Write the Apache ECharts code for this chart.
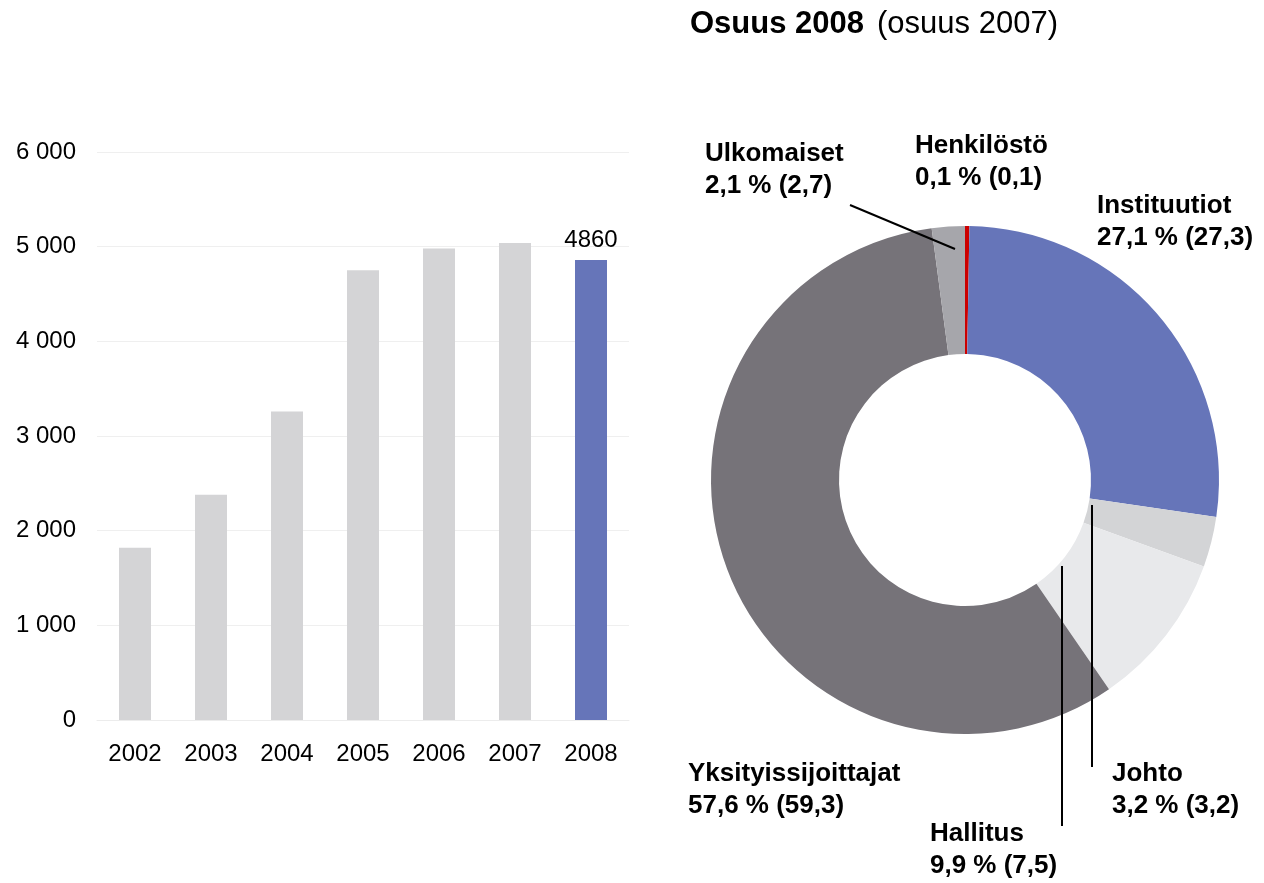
<!DOCTYPE html>
<html>
<head>
<meta charset="utf-8">
<script src="https://cdn.jsdelivr.net/npm/echarts@6/dist/echarts.min.js"></script>
<style>
  html, body { margin: 0; height: 100%; background: #fff; }
  #chart { width: 1264px; height: 883px; }
</style>
</head>
<body>
<div id="chart"></div>
<script>
  // bar chart data
  const years = ['2002', '2003', '2004', '2005', '2006', '2007', '2008'];
  const holders = [1820, 2380, 3260, 4750, 4980, 5040, 4860];
  const yTicks = [0, 1000, 2000, 3000, 4000, 5000, 6000];

  // ownership shares, clockwise from 12 o'clock
  const groups = ['Henkilöstö', 'Instituutiot', 'Johto', 'Hallitus', 'Yksityissijoittajat', 'Ulkomaiset'];
  const share2008 = [0.1, 27.1, 3.2, 9.9, 57.6, 2.1];
  const share2007 = [0.1, 27.3, 3.2, 7.5, 59.3, 2.7];

  const BLUE = '#6675b9';
  const GREY = '#d4d4d6';
  const sliceColors = ['#cc0000', BLUE, '#d3d4d6', '#e8e9eb', '#767379', '#a6a6ab'];

  // label placement (left/top of text box), px
  const labelPos = {
    'Henkilöstö': { x: 915, y: 130 },
    'Instituutiot': { x: 1097, y: 190 },
    'Johto': { x: 1112, y: 758 },
    'Hallitus': { x: 930, y: 818 },
    'Yksityissijoittajat': { x: 688, y: 758 },
    'Ulkomaiset': { x: 705, y: 138 }
  };
  // leader lines drawn over the donut
  const leaders = [
    [[850, 205], [955, 249]],
    [[1092, 505], [1092, 767]],
    [[1062, 566], [1062, 826]]
  ];

  const fmt = v => v.toFixed(1).replace('.', ',');
  const FONT = 'Liberation Sans, Arial, sans-serif';

  const chart = echarts.init(document.getElementById('chart'), null, { renderer: 'canvas' });

  const option = {
    animation: false,
    textStyle: { fontFamily: FONT },
    title: {
      text: '{b|Osuus 2008}{n|(osuus 2007)}',
      left: 685,
      top: 4,
      textStyle: {
        rich: {
          b: { fontSize: 31, fontWeight: 'bold', color: '#000', fontFamily: FONT },
          n: { fontSize: 31, fontWeight: 'normal', color: '#000', fontFamily: FONT, padding: [0, 0, 0, 13] }
        }
      }
    },
    graphic: leaders.map(pts => ({
      type: 'polyline',
      z: 100,
      shape: { points: pts },
      style: { stroke: '#000', lineWidth: 2, fill: null }
    })),
    grid: { left: 97, right: 635, top: 152, bottom: 163 },
    xAxis: {
      type: 'category',
      data: years,
      axisLine: { lineStyle: { color: '#ececec' } },
      axisTick: { show: false },
      axisLabel: { color: '#000', fontSize: 24, margin: 22 }
    },
    yAxis: {
      type: 'value',
      min: yTicks[0],
      max: yTicks[yTicks.length - 1],
      interval: 1000,
      splitLine: { lineStyle: { color: '#efefef' } },
      axisLabel: {
        color: '#000',
        fontSize: 24,
        margin: 21,
        formatter: v => String(v).replace(/\B(?=(\d{3})+(?!\d))/g, ' ')
      }
    },
    series: [
      {
        type: 'bar',
        barWidth: 32,
        data: holders.map((v, i) => ({
          value: v,
          itemStyle: { color: i === holders.length - 1 ? BLUE : GREY },
          label: {
            show: i === holders.length - 1,
            position: 'top',
            color: '#000',
            fontSize: 24,
            distance: 8
          }
        }))
      },
      {
        type: 'pie',
        center: [965, 480],
        radius: [126, 254],
        startAngle: 90,
        clockwise: true,
        minAngle: 1,
        avoidLabelOverlap: false,
        itemStyle: { borderWidth: 0 },
        label: {
          position: 'outside',
          color: '#000',
          fontSize: 26,
          fontWeight: 'bold',
          lineHeight: 32,
          align: 'left',
          formatter: p => p.name + '\n' + fmt(share2008[p.dataIndex]) + ' % (' + fmt(share2007[p.dataIndex]) + ')'
        },
        labelLine: { show: false },
        labelLayout: p => {
          const pos = labelPos[groups[p.dataIndex]];
          return { x: pos.x, y: pos.y, align: 'left', verticalAlign: 'top' };
        },
        data: groups.map((g, i) => ({
          name: g,
          value: share2008[i],
          itemStyle: { color: sliceColors[i] }
        }))
      }
    ]
  };

  chart.setOption(option);
</script>
</body>
</html>
